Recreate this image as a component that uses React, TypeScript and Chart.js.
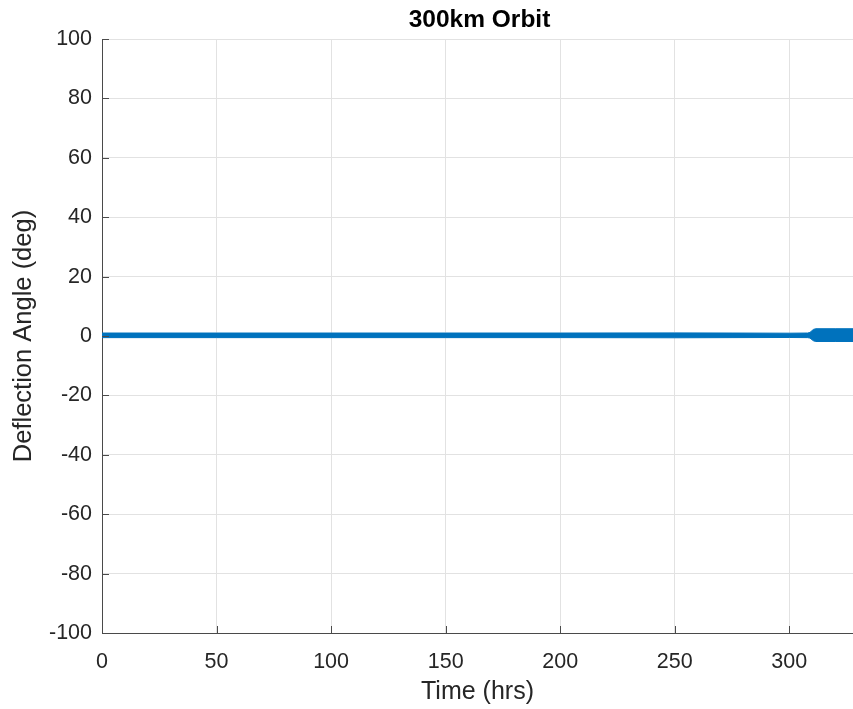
import React, { useEffect, useRef } from "react";
import { Chart, registerables } from "chart.js";

Chart.register(...registerables);

// Envelope of the dense oscillating deflection-angle trace
const envTimes = [0, 50, 100, 150, 200, 250, 275, 300, 308, 309, 310.5, 311.5, 320, 327.8];
const envUpper = [1.0, 1.0, 1.0, 1.0, 1.0, 1.05, 1.0, 0.95, 1.0, 1.2, 2.2, 2.45, 2.45, 2.45];
const envLower = [-0.55, -0.55, -0.55, -0.55, -0.55, -0.6, -0.55, -0.5, -0.55, -0.7, -1.6, -1.85, -1.85, -1.85];

const xTickValues = [0, 50, 100, 150, 200, 250, 300];
const yTickValues = [-100, -80, -60, -40, -20, 0, 20, 40, 60, 80, 100];

const titleText = "300km Orbit";
const xLabel = "Time (hrs)";
const yLabel = "Deflection Angle (deg)";

const FONT = "'Liberation Sans', Arial, Helvetica, sans-serif";
const BLUE = "#0072BD";
const AXIS = "#4a4a4a";
const GRID = "#e2e2e2";
const TEXT = "#262626";

const decorPlugin = {
  id: "decor",
  afterDraw(chart: any) {
    const ctx = chart.ctx;
    const area = chart.chartArea;
    const xs = chart.scales.x;
    const ys = chart.scales.y;
    ctx.save();
    // inward tick marks
    ctx.strokeStyle = AXIS;
    ctx.lineWidth = 1;
    ctx.beginPath();
    xTickValues.forEach((v) => {
      const px = Math.round(xs.getPixelForValue(v)) + 0.5;
      ctx.moveTo(px, area.bottom);
      ctx.lineTo(px, area.bottom - 7);
    });
    yTickValues.forEach((v) => {
      const py = Math.round(ys.getPixelForValue(v)) + 0.5;
      ctx.moveTo(area.left, py);
      ctx.lineTo(area.left + 7, py);
    });
    ctx.stroke();
    // title
    ctx.fillStyle = "#000";
    ctx.font = `bold 24.5px ${FONT}`;
    ctx.textAlign = "center";
    ctx.textBaseline = "middle";
    ctx.fillText(titleText, (area.left + area.right) / 2 + 2, 20);
    ctx.restore();
  },
};

export default function App() {
  const ref = useRef<HTMLCanvasElement | null>(null);
  useEffect(() => {
    if (!ref.current) return;
    const upper = envTimes.map((t, i) => ({ x: t, y: envUpper[i] }));
    const lower = envTimes.map((t, i) => ({ x: t, y: envLower[i] }));
    const chart = new Chart(ref.current, {
      type: "line",
      data: {
        datasets: [
          {
            data: upper,
            borderColor: BLUE,
            backgroundColor: BLUE,
            borderWidth: 1,
            pointRadius: 0,
            fill: "+1",
            tension: 0,
          },
          {
            data: lower,
            borderColor: BLUE,
            backgroundColor: BLUE,
            borderWidth: 1,
            pointRadius: 0,
            fill: false,
            tension: 0,
          },
        ],
      },
      options: {
        animation: false,
        responsive: false,
        devicePixelRatio: 1,
        layout: { padding: { top: 39, left: 0, right: 0, bottom: 0 } },
        plugins: {
          legend: { display: false },
          tooltip: { enabled: false },
          title: { display: false },
        },
        scales: {
          x: {
            type: "linear",
            min: 0,
            max: 327.8,
            afterBuildTicks: (scale: any) => {
              scale.ticks = xTickValues.map((v) => ({ value: v }));
            },
            afterFit: (scale: any) => {
              scale.height = 76;
            },
            ticks: {
              color: TEXT,
              font: { family: FONT, size: 21.5 },
              padding: 16,
              maxRotation: 0,
              autoSkip: false,
            },
            grid: { color: GRID, drawTicks: false, lineWidth: 1 },
            border: { color: AXIS, width: 1 },
            title: {
              display: true,
              text: xLabel,
              color: TEXT,
              font: { family: FONT, size: 25 },
              padding: { top: 0, bottom: 2 },
            },
          },
          y: {
            type: "linear",
            min: -100,
            max: 100,
            afterBuildTicks: (scale: any) => {
              scale.ticks = yTickValues.map((v) => ({ value: v }));
            },
            afterFit: (scale: any) => {
              scale.width = 102;
            },
            ticks: {
              color: TEXT,
              font: { family: FONT, size: 21.5 },
              padding: 10,
              autoSkip: false,
            },
            grid: { color: GRID, drawTicks: false, lineWidth: 1 },
            border: { color: AXIS, width: 1 },
            title: {
              display: true,
              text: yLabel,
              color: TEXT,
              font: { family: FONT, size: 25.5 },
              padding: { top: 9, bottom: 0 },
            },
          },
        },
      },
      plugins: [decorPlugin],
    } as any);
    return () => chart.destroy();
  }, []);
  return (
    <canvas
      ref={ref}
      width={853}
      height={709}
      style={{ position: "absolute", left: 0, top: 0, width: 853, height: 709 }}
    />
  );
}
